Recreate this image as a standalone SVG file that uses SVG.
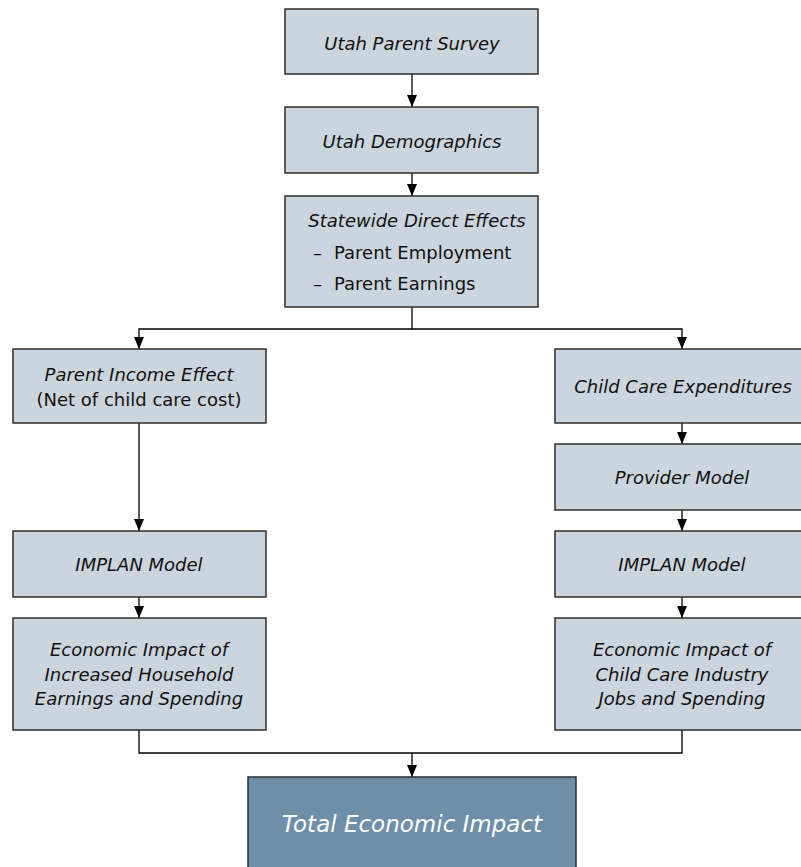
<svg xmlns="http://www.w3.org/2000/svg" width="801" height="867" viewBox="0 0 801 867">
<defs>
<style>
.box{fill:#cbd5de;stroke:#2e2e2e;stroke-width:1.5}
.tot{fill:#6f8fa9;stroke:#2e2e2e;stroke-width:1.5}
.t{font-family:"DejaVu Sans",sans-serif;font-size:18px;fill:#111;text-anchor:middle}
.s{text-anchor:start}
.i{font-style:italic}
.w{font-family:"DejaVu Sans",sans-serif;font-size:23px;font-style:italic;fill:#fff;text-anchor:middle}
.c{fill:none;stroke:#000;stroke-width:1.3}
</style>
<marker id="ah" viewBox="0 0 12 10" refX="12" refY="5" markerWidth="12" markerHeight="10" markerUnits="userSpaceOnUse" orient="auto">
<path d="M0,0 L12,5 L0,10 Z" fill="#000"/>
</marker>
</defs>
<rect width="801" height="867" fill="#fff"/>
<g id="connectors">
<line class="c" x1="412" y1="74" x2="412" y2="107" marker-end="url(#ah)"/>
<line class="c" x1="412" y1="173" x2="412" y2="196" marker-end="url(#ah)"/>
<polyline class="c" points="412,307 412,329 139,329 139,349" marker-end="url(#ah)"/>
<polyline class="c" points="412,329 682,329 682,349" marker-end="url(#ah)"/>
<line class="c" x1="139" y1="423" x2="139" y2="531" marker-end="url(#ah)"/>
<line class="c" x1="139" y1="597" x2="139" y2="618" marker-end="url(#ah)"/>
<line class="c" x1="682" y1="423" x2="682" y2="444" marker-end="url(#ah)"/>
<line class="c" x1="682" y1="510" x2="682" y2="531" marker-end="url(#ah)"/>
<line class="c" x1="682" y1="597" x2="682" y2="618" marker-end="url(#ah)"/>
<polyline class="c" points="139,730 139,753 682,753 682,730"/>
<line class="c" x1="412" y1="753" x2="412" y2="777" marker-end="url(#ah)"/>
</g>
<g id="survey">
<rect class="box" x="285" y="9" width="253" height="65"/>
<text class="t i" x="412" y="50">Utah Parent Survey</text>
</g>
<g id="demographics">
<rect class="box" x="285" y="107" width="253" height="66"/>
<text class="t i" x="412" y="148">Utah Demographics</text>
</g>
<g id="direct">
<rect class="box" x="285" y="196" width="253" height="111"/>
<text class="t i" x="417" y="227">Statewide Direct Effects</text>
<text class="t s" x="313" y="259">–</text>
<text class="t s" x="334" y="259">Parent Employment</text>
<text class="t s" x="313" y="290">–</text>
<text class="t s" x="334" y="290">Parent Earnings</text>
</g>
<g id="income">
<rect class="box" x="13" y="349" width="253" height="74"/>
<text class="t i" x="139" y="381">Parent Income Effect</text>
<text class="t" x="139" y="406">(Net of child care cost)</text>
</g>
<g id="expend">
<rect class="box" x="555" y="349" width="254" height="74"/>
<text class="t i" x="683" y="393">Child Care Expenditures</text>
</g>
<g id="provider">
<rect class="box" x="555" y="444" width="254" height="66"/>
<text class="t i" x="682" y="484">Provider Model</text>
</g>
<g id="implanL">
<rect class="box" x="13" y="531" width="253" height="66"/>
<text class="t i" x="139" y="571">IMPLAN Model</text>
</g>
<g id="implanR">
<rect class="box" x="555" y="531" width="254" height="66"/>
<text class="t i" x="682" y="571">IMPLAN Model</text>
</g>
<g id="econL">
<rect class="box" x="13" y="618" width="253" height="112"/>
<text class="t i" x="139" y="656">Economic Impact of</text>
<text class="t i" x="139" y="681">Increased Household</text>
<text class="t i" x="139" y="705">Earnings and Spending</text>
</g>
<g id="econR">
<rect class="box" x="555" y="618" width="254" height="112"/>
<text class="t i" x="682" y="656">Economic Impact of</text>
<text class="t i" x="682" y="681">Child Care Industry</text>
<text class="t i" x="682" y="705">Jobs and Spending</text>
</g>
<g id="total">
<rect class="tot" x="248" y="777" width="328" height="110"/>
<text class="w" x="412" y="832">Total Economic Impact</text>
</g>
</svg>
